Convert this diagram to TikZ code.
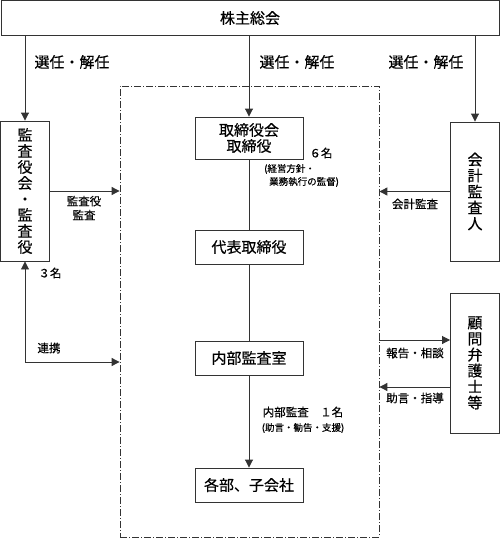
\documentclass[tikz,border=0pt]{standalone}
\usepackage{fontspec}
\setmainfont{Noto Sans CJK JP}[FakeBold=0.4]
\usetikzlibrary{arrows.meta}
\begin{document}
\begin{tikzpicture}[x=1pt,y=-1pt,
 box/.style={draw=black!80, line width=0.9pt, rectangle, inner sep=0pt, align=center, font=\fontsize{15}{16}\selectfont},
 lbl/.style={inner sep=0pt, font=\fontsize{15}{16}\selectfont},
 small/.style={inner sep=0pt, align=center, font=\fontsize{11.5}{14}\selectfont},
 tiny/.style={inner sep=0pt, font=\fontsize{9.5}{11}\selectfont},
 conn/.style={draw=black!80, line width=0.9pt},
 arr/.style={conn, -{Triangle[length=8pt,width=8pt]}},
 framebox/.style={draw=black!80, line width=0.8pt, dash pattern=on 7pt off 2pt on 1pt off 2pt, rectangle, inner sep=0pt},
]
\useasboundingbox (0,0) rectangle (500,539);

% dash-dot frame
\node[framebox, minimum width=259pt, minimum height=451pt] (frame) at (249.5,311.5) {};

% boxes
\node[box, minimum width=498pt, minimum height=35pt] (top) at (250,18) {株主総会};
\node[box, minimum width=49pt, minimum height=140pt] (kansa) at (25,191) {監\\査\\役\\会\\・\\監\\査\\役};
\node[box, minimum width=49pt, minimum height=139pt] (kaikei) at (475,191.5) {会\\計\\監\\査\\人};
\node[box, minimum width=49pt, minimum height=140pt] (komon) at (475,363) {顧\\問\\弁\\護\\士\\等};
\node[box, minimum width=108pt, minimum height=42pt] (tori) at (249,138) {取締役会\\取締役};
\node[box, minimum width=108pt, minimum height=34pt] (daihyo) at (249,247) {代表取締役};
\node[box, minimum width=108pt, minimum height=34pt] (naibu) at (249,358) {内部監査室};
\node[box, minimum width=108pt, minimum height=34pt] (kakubu) at (249,485) {各部、子会社};

% connectors
\draw[arr] (top.south -| kansa.north) -- (kansa.north);
\draw[arr] (top.south -| tori.north) -- (tori.north);
\draw[arr] (top.south -| kaikei.north) -- (kaikei.north);
\draw[conn] (tori) -- (daihyo);
\draw[conn] (daihyo) -- (naibu);
\draw[arr] (naibu) -- (kakubu);
\draw[arr] (kansa.east) -- (kansa.east -| frame.west);
\draw[arr] (kaikei.west) -- (kaikei.west -| frame.east);
\coordinate (rk) at (25,362);
\draw[conn, {Triangle[length=8pt,width=8pt]}-{Triangle[length=8pt,width=8pt]}] (kansa.south) -- (rk) -- (rk -| frame.west);
\coordinate (k1) at ([yshift=23pt]komon.west);
\coordinate (k2) at ([yshift=-24pt]komon.west);
\draw[arr] (k1 -| frame.east) -- (k1);
\draw[arr] (k2) -- (k2 -| frame.east);

% labels
\node[lbl] (l1) at (72,62) {選任・解任};
\node[lbl] (l2) at (297,62) {選任・解任};
\node[lbl] (l3) at (426,62) {選任・解任};
\node[small] (kl) at (84,208) {監査役\\監査};
\node[small] (n3) at (50,273) {３名};
\node[small] (n6) at (321,153) {６名};
\node[tiny, anchor=west] (kei1) at (264,169) {(経営方針・};
\node[tiny, anchor=west] (kei2) at (269,182) {業務執行の監督)};
\node[small] (kk) at (415,204) {会計監査};
\node[small] (hk) at (415,353) {報告・相談};
\node[small] (jo) at (415,398) {助言・指導};
\node[small] (rn) at (49,348) {連携};
\node[small] (nb) at (303,412) {内部監査　１名};
\node[tiny] (js) at (303,428) {(助言・勧告・支援)};
\end{tikzpicture}
\end{document}
